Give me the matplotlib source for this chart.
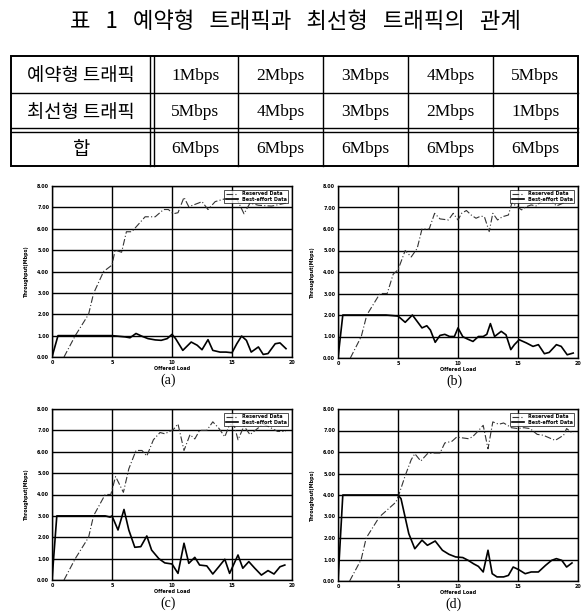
import matplotlib
matplotlib.use("Agg")
import matplotlib.pyplot as plt

plt.rcParams['font.family'] = ['Liberation Serif', 'Noto Sans CJK KR', 'DejaVu Sans']

W, H = 586, 612
title = "표 1 예약형 트래픽과 최선형 트래픽의 관계"
row_names = ["예약형 트래픽", "최선형 트래픽", "합"]
reserved_rate = ["1Mbps", "2Mbps", "3Mbps", "4Mbps", "5Mbps"]
besteffort_rate = ["5Mbps", "4Mbps", "3Mbps", "2Mbps", "1Mbps"]
total_rate = ["6Mbps", "6Mbps", "6Mbps", "6Mbps", "6Mbps"]

# (a) reserved 1Mbps
a_res_x = [0, 0.5, 1, 2, 3, 4, 5, 6.1, 6.5, 7.0, 7.5, 8.0, 8.6, 9.1, 9.6, 10.0, 10.3, 10.9, 11.6, 12.1, 12.5,
           13.0, 13.4, 14.0, 14.5, 15.0, 15.4, 15.8, 16.2, 16.6, 17.2, 17.6, 18.0, 18.6, 19.0, 19.5]
a_res_y = [0, 1, 1, 1, 1, 1, 1, 0.94, 0.9, 1.1, 0.97, 0.86, 0.8, 0.78, 0.86, 1.06, 0.86, 0.31, 0.7, 0.55, 0.34,
           0.81, 0.31, 0.23, 0.23, 0.2, 0.62, 0.98, 0.78, 0.23, 0.47, 0.12, 0.16, 0.62, 0.66, 0.39]
a_be_x = [1.0, 1.94, 3.05, 3.46, 4.3, 5.0, 5.26, 5.8, 6.2, 6.65, 7.76, 8.6, 9.3, 9.7, 10.1, 10.5, 11.0, 11.4,
          12.2, 12.5, 13.0, 13.6, 14.4, 15.0, 15.4, 16.0, 16.5, 17.2, 18.3, 19.5]
a_be_y = [0, 1.0, 2.0, 2.97, 4.0, 4.3, 5.0, 4.9, 5.86, 5.86, 6.56, 6.56, 6.9, 6.9, 6.7, 6.75, 7.47, 7.03,
          7.2, 7.27, 6.9, 7.27, 7.4, 7.34, 7.4, 6.7, 7.2, 7.1, 7.06, 7.2]

# (b) reserved 2Mbps
b_res_x = [0, 0.4, 2, 4, 5.0, 5.6, 6.2, 6.6, 7.0, 7.4, 7.7, 8.1, 8.5, 8.9, 9.3, 9.7, 10.0, 10.4, 10.8, 11.25,
           11.7, 12.1, 12.4, 12.7, 13.05, 13.6, 14.0, 14.4, 14.7, 15.1, 15.7, 16.25, 16.7, 17.2, 17.6, 18.2,
           18.6, 19.1, 19.6]
b_res_y = [0, 2, 2, 2, 1.95, 1.66, 2.0, 1.7, 1.4, 1.5, 1.3, 0.73, 1.05, 1.1, 1.0, 1.0, 1.4, 0.99, 0.88, 0.77,
           1.0, 1.0, 1.1, 1.6, 1.0, 1.24, 1.08, 0.39, 0.62, 0.85, 0.7, 0.54, 0.62, 0.2, 0.26, 0.62,
           0.54, 0.15, 0.23]
b_be_x = [1.03, 1.94, 2.4, 3.5, 4.1, 4.6, 5.0, 5.6, 6.1, 6.6, 7.0, 7.6, 8.05, 8.5, 9.2, 9.6, 10.0, 10.3,
          10.7, 11.1, 11.5, 11.9, 12.2, 12.6, 12.9, 13.3, 13.7, 14.2, 14.5, 14.9, 15.3, 15.7, 16.1, 16.5,
          17.1, 17.6, 18.2, 18.75, 19.4]
b_be_y = [0, 1, 2, 3, 3, 3.9, 4.1, 5.0, 4.7, 5.1, 6.0, 6.0, 6.73, 6.47, 6.42, 6.73, 6.42, 6.73,
          6.86, 6.65, 6.5, 6.6, 6.57, 5.88, 6.73, 6.42, 6.57, 6.65, 7.23, 7.04, 6.89, 7.04, 7.12, 7.07,
          7.35, 7.43, 7.07, 7.2, 7.43]

# (c) reserved 3Mbps
c_res_x = [0, 0.4, 2, 4.43, 4.85, 5.0, 5.5, 6.0, 6.4, 6.9, 7.4, 7.9, 8.3, 8.9, 9.4, 10.0, 10.5, 11.0, 11.4,
           11.9, 12.3, 12.9, 13.4, 13.9, 14.4, 14.8, 15.5, 15.9, 16.4, 16.9, 17.45, 18.0, 18.5, 19.0, 19.4]
c_res_y = [0, 3, 3, 3, 2.94, 3.0, 2.34, 3.3, 2.34, 1.53, 1.56, 2.06, 1.4, 1.0, 0.8, 0.75, 0.31, 1.72, 0.78,
           1.06, 0.7, 0.66, 0.28, 0.62, 0.97, 0.31, 1.17, 0.55, 0.86, 0.55, 0.23, 0.44, 0.28, 0.62, 0.7]
c_be_x = [1.0, 1.94, 3.05, 3.46, 4.43, 4.9, 5.3, 5.95, 6.4, 7.0, 7.5, 7.9, 8.45, 9.0, 9.4, 9.8, 10.1, 10.5,
          11.0, 11.5, 11.9, 12.3, 12.9, 13.4, 13.9, 14.4, 14.8, 15.2, 15.5, 16.0, 16.5, 17.0, 17.6, 18.1,
          18.8, 19.5]
c_be_y = [0, 1, 2, 3, 4.0, 4.0, 4.84, 4.1, 5.2, 6.06, 6.06, 5.8, 6.56, 6.9, 6.84, 6.95, 7.03, 7.3,
          6.06, 6.8, 6.6, 7.0, 7.0, 7.4, 7.1, 6.7, 7.27, 7.2, 6.56, 7.2, 6.8, 7.03, 7.3, 7.16,
          6.95, 6.95]

# (d) reserved 4Mbps
d_res_x = [0, 0.4, 2, 4, 5.0, 5.25, 5.9, 6.4, 7.0, 7.45, 8.1, 8.7, 9.25, 9.8, 10.4, 10.85, 11.3, 11.7, 12.1,
           12.5, 12.85, 13.25, 13.8, 14.2, 14.6, 15.05, 15.6, 16.1, 16.7, 17.3, 17.8, 18.2, 18.65, 19.05, 19.5]
d_res_y = [0, 4, 4, 4, 4, 3.83, 2.2, 1.5, 1.9, 1.66, 1.86, 1.43, 1.24, 1.12, 1.09, 0.96, 0.8, 0.68, 0.42,
           1.43, 0.34, 0.19, 0.19, 0.26, 0.65, 0.53, 0.34, 0.42, 0.42, 0.73, 0.96, 1.04, 0.96, 0.65, 0.84]
d_be_x = [0.97, 1.93, 2.35, 3.45, 4.83, 5.1, 5.6, 6.1, 6.4, 6.9, 7.45, 8.0, 8.5, 8.9, 9.5, 9.9, 10.2, 10.85,
          11.2, 11.6, 12.1, 12.5, 12.9, 13.4, 13.8, 14.45, 15.0, 15.5, 16.0, 16.6, 17.1, 18.1, 18.8, 19.05, 19.6]
d_be_y = [0, 1, 2, 2.98, 3.67, 4.06, 4.9, 5.64, 5.92, 5.58, 5.92, 5.95, 5.95, 6.42, 6.5, 6.7, 6.67, 6.62,
          6.7, 6.93, 7.24, 6.15, 7.4, 7.29, 7.35, 7.13, 7.09, 7.13, 7.09, 6.82, 6.78, 6.54, 6.78, 7.09, 6.85]

panels = [
    ("(a)", a_res_x, a_res_y, a_be_x, a_be_y, (52, 186, 292, 357)),
    ("(b)", b_res_x, b_res_y, b_be_x, b_be_y, (338, 186, 578, 358)),
    ("(c)", c_res_x, c_res_y, c_be_x, c_be_y, (52, 409, 292, 580)),
    ("(d)", d_res_x, d_res_y, d_be_x, d_be_y, (338, 409, 578, 581)),
]
yticks = [0, 1, 2, 3, 4, 5, 6, 7, 8]
xticks = [0, 5, 10, 15, 20]

fig = plt.figure(figsize=(W / 100, H / 100), dpi=100)

# page layer in pixel coordinates for title and table
page = fig.add_axes([0, 0, 1, 1])
page.set_xlim(0, W); page.set_ylim(H, 0); page.axis('off')
page.text(295, 22, title.replace(" ", "   "), ha='center', va='center', fontsize=16,
          family=['Noto Sans CJK KR'], fontweight='light')

tl, tr, tt, tb = 11, 578, 56, 166
col_edges = [153, 238, 323, 408, 493, 578]
row_edges = [56, 93, 130, 166]
page.add_patch(plt.Rectangle((tl, tt), tr - tl, tb - tt, fill=False, lw=1.4, ec='black'))
for x in col_edges[1:-1]:
    page.plot([x, x], [tt, tb], color='black', lw=1.0)
page.plot([150, 150], [tt, tb], color='black', lw=1.0)
page.plot([154, 154], [tt, tb], color='black', lw=1.0)
page.plot([tl, tr], [93, 93], color='black', lw=1.0)
page.plot([tl, tr], [128, 128], color='black', lw=1.0)
page.plot([tl, tr], [132, 132], color='black', lw=1.0)
rows = [reserved_rate, besteffort_rate, total_rate]
for i, (name, vals) in enumerate(zip(row_names, rows)):
    yc = (row_edges[i] + row_edges[i + 1]) / 2 + 1
    page.text((tl + 150) / 2, yc, name, ha='center', va='center', fontsize=13.5,
              family=['Noto Sans CJK KR'], fontweight='light')
    for j, v in enumerate(vals):
        xc = (col_edges[j] + col_edges[j + 1]) / 2
        page.text(xc, yc, v, ha='center', va='center', fontsize=12.5)

for cap, rx, ry, bx, by, (l, t, r, b) in panels:
    ax = fig.add_axes([l / W, 1 - b / H, (r - l) / W, (b - t) / H])
    ax.plot(bx, by, color='#333333', lw=0.8, ls=(0, (6, 2, 1, 2)), label='Reserved Data')
    ax.plot(rx, ry, color='black', lw=1.2, label='Best-effort Data')
    ax.set_xlim(0, 20); ax.set_ylim(0, 8)
    ax.set_xticks(xticks); ax.set_yticks(yticks)
    ax.set_xticklabels([str(v) for v in xticks], fontsize=3.5, family='DejaVu Sans', fontweight='bold')
    ax.set_yticklabels(["%.2f" % v for v in yticks], fontsize=3.5, family='DejaVu Sans', fontweight='bold')
    ax.tick_params(length=0, pad=2)
    ax.grid(True, color='black', lw=1.0)
    ax.set_axisbelow(True)
    for s in ax.spines.values():
        s.set_linewidth(1.0)
    ax.set_ylabel("Throughput(Mbps)", fontsize=3.5, family='DejaVu Sans', fontweight='bold', labelpad=6)
    ax.set_xlabel("Offered Load", fontsize=3.5, family='DejaVu Sans', fontweight='bold', labelpad=1)
    leg = ax.legend(loc='upper right', fontsize=3.5, frameon=True, handlelength=2.5,
                    borderpad=0.3, labelspacing=0.1, borderaxespad=0.8, fancybox=False,
                    prop={'family': 'DejaVu Sans', 'size': 3.5, 'weight': 'bold'})
    leg.get_frame().set_edgecolor('black')
    leg.get_frame().set_linewidth(0.6)
    page.text((l + r) / 2 - 4, b + 23, cap, ha='center', va='center', fontsize=10)

fig.savefig("out.png", dpi=100)
